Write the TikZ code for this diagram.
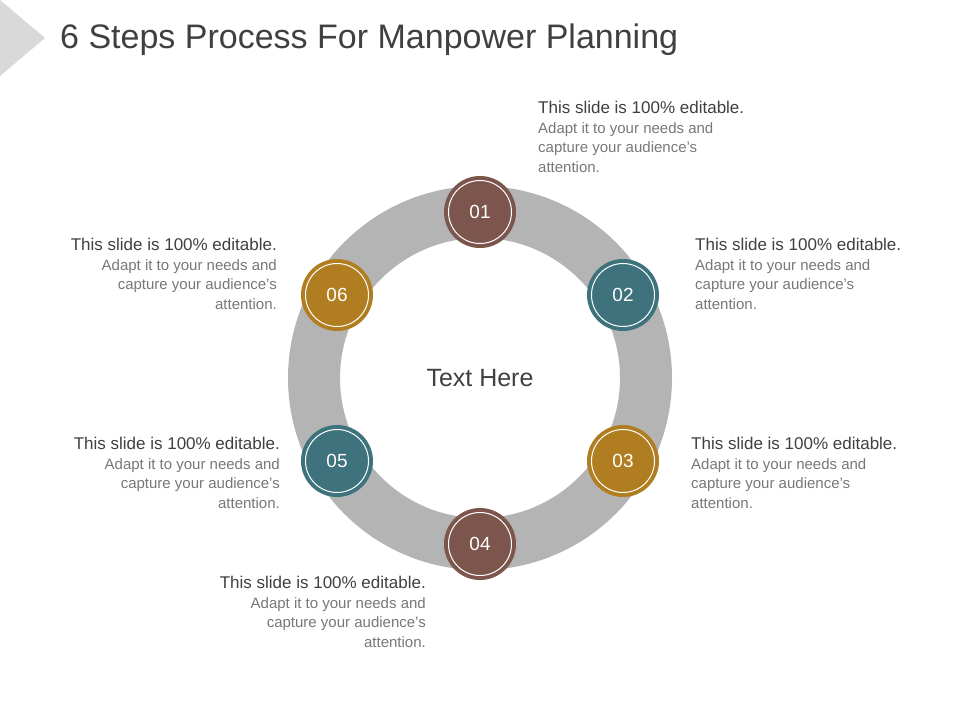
\documentclass[tikz,border=0pt]{standalone}
\usepackage{fontspec}
\setmainfont{Liberation Sans}
\definecolor{brn}{RGB}{124,86,76}
\definecolor{tea}{RGB}{62,115,125}
\definecolor{gld}{RGB}{176,126,32}
\definecolor{ring}{RGB}{180,180,180}
\definecolor{dk}{RGB}{64,64,64}
\definecolor{lt}{RGB}{120,120,120}
\tikzset{
 stepc/.style={circle,minimum size=72pt,inner sep=0pt,text=white,font=\fontsize{19}{22}\selectfont,
   path picture={\draw[white,line width=1pt] (path picture bounding box.center) circle (31.5pt);}},
 blk/.style={inner sep=0pt,font=\fontsize{15}{19.5}\selectfont,text=lt}
}
\newcommand{\hd}{{\fontsize{17}{20}\selectfont\color{dk}This slide is 100\% editable.}}
\begin{document}
\begin{tikzpicture}[x=1pt,y=-1pt]
\useasboundingbox (0,0) rectangle (960,720);
\fill[white] (0,0) rectangle (960,720);
\fill[gray!30] (0,0) -- (45,38) -- (0,76) -- cycle;
\node[anchor=west,text=dk,font=\fontsize{34}{40}\selectfont,inner sep=0pt] (title) at (60,40) {6 Steps Process For Manpower Planning};
\fill[ring,even odd rule] (480,378) circle (192) (480,378) circle (140);
\node[text=dk,font=\fontsize{25}{30}\selectfont] (center) at (480,378) {Text Here};
\node[stepc,fill=brn] (s1) at (480,212) {01};
\node[stepc,fill=tea] (s2) at (623,295) {02};
\node[stepc,fill=gld] (s3) at (623,461) {03};
\node[stepc,fill=brn] (s4) at (480,544) {04};
\node[stepc,fill=tea] (s5) at (337,461) {05};
\node[stepc,fill=gld] (s6) at (337,295) {06};
\node[blk,anchor=north west,align=left] (t1) at (538,101) {\hd\\Adapt it to your needs and\\capture your audience’s\\attention.};
\node[blk,anchor=north west,align=left] (t2) at (695,238) {\hd\\Adapt it to your needs and\\capture your audience’s\\attention.};
\node[blk,anchor=north west,align=left] (t3) at (691,437) {\hd\\Adapt it to your needs and\\capture your audience’s\\attention.};
\node[blk,anchor=north east,align=right] (t4) at (426,576) {\hd\\Adapt it to your needs and\\capture your audience’s\\attention.};
\node[blk,anchor=north east,align=right] (t5) at (280,437) {\hd\\Adapt it to your needs and\\capture your audience’s\\attention.};
\node[blk,anchor=north east,align=right] (t6) at (277,238) {\hd\\Adapt it to your needs and\\capture your audience’s\\attention.};
\end{tikzpicture}
\end{document}
